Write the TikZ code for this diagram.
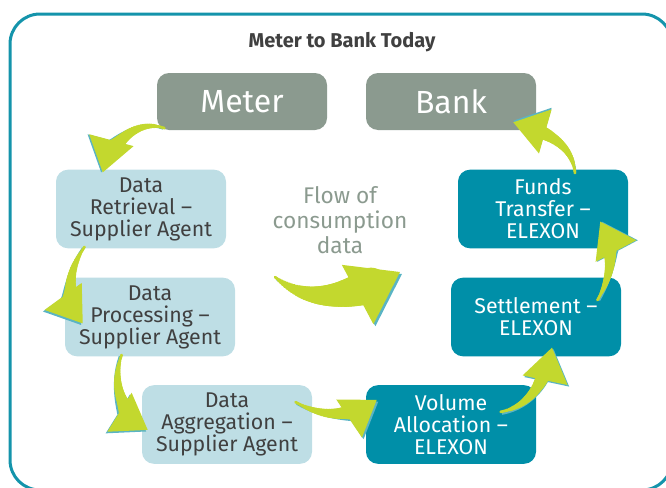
\documentclass[tikz,border=0pt]{standalone}
\usepackage{fontspec}
\setmainfont{Fira Sans}
\usetikzlibrary{arrows.meta,calc,positioning,decorations.markings}

\definecolor{framecol}{RGB}{20,148,171}
\definecolor{slatecol}{RGB}{139,154,143}
\definecolor{palecol}{RGB}{190,222,229}
\definecolor{tealcol}{RGB}{0,143,168}
\definecolor{limecol}{RGB}{195,216,46}
\definecolor{inkcol}{RGB}{64,64,64}

\tikzset{
  greybox/.style={fill=slatecol, rounded corners=9pt, minimum width=127.5pt,
    minimum height=42.75pt, text=white, font=\fontsize{24}{26}\selectfont},
  agentbox/.style={fill=palecol, rounded corners=9pt, minimum width=127.5pt,
    minimum height=59pt, align=center, text=inkcol, inner sep=1pt,
    font=\fontsize{16}{16.5}\selectfont},
  elexbox/.style={agentbox, fill=tealcol, text=white},
  % tapered body: circles growing along the path
  taper/.style={postaction={decorate, decoration={markings,
    mark=between positions 0 and 0.78 step 0.02 with {\fill[limecol] (0,0) circle
      ({0.6pt+#1*\pgfkeysvalueof{/pgf/decoration/mark info/sequence number}});}}}},
  cycarrow/.style={draw=limecol, line width=2pt,
    -{Triangle[length=25pt,width=34pt]}, taper=0.13pt,
    preaction={draw=framecol!70!white, line width=2pt,
      -{Triangle[length=25pt,width=34pt]}, transform canvas={shift={#1}}}},
  cycarrow/.default={(1.2pt,-1.2pt)},
}

\begin{document}
\begin{tikzpicture}[x=0.75pt,y=0.75pt]
\useasboundingbox (0,0) rectangle (666,487);
\draw[framecol, line width=2.25pt, rounded corners=22.5pt] (10,473) rectangle (672,-3);

\node[font=\bfseries\fontsize{15}{17}\selectfont, text=inkcol] (title) at (342,445) {Meter to Bank Today};

% top row
\node[greybox] (meter) at (242,385.5) {Meter};
\node[greybox] (bank) at (451,385.5) {Bank};

% supplier agent side
\node[agentbox] (retrieval) at (141,278) {Data\\Retrieval --\\Supplier Agent};
\node[agentbox] (processing) at (150,170) {Data\\Processing --\\Supplier Agent};
\node[agentbox] (aggregation) at (227,62.5) {Data\\Aggregation --\\Supplier Agent};

% elexon side
\node[elexbox] (volume) at (451,62.5) {Volume\\Allocation --\\ELEXON};
\node[elexbox] (settlement) at (536,170) {Settlement --\\ELEXON};
\node[elexbox] (funds) at (543,278) {Funds\\Transfer --\\ELEXON};

\node[text=slatecol, align=center, font=\fontsize{17}{18.75}\selectfont] (flowtext) at (340,267) {Flow of\\consumption\\data};

% the cycle
\draw[cycarrow={(-1.2pt,0pt)}] ($(meter.south west)+(8,2)$) to[out=160,in=75] ($(retrieval.north west)+(47,-3)$);
\draw[cycarrow={(-1.2pt,-1.2pt)}] ($(retrieval.south west)+(29,2)$) to[out=235,in=126] ($(processing.north west)+(18,-46)$);
\draw[cycarrow={(-1.2pt,-1.2pt)}] ($(processing.south west)+(57,2)$) to[out=250,in=148] ($(aggregation.north west)+(6,-45)$);
\draw[cycarrow={(1.2pt,-1.2pt)}] ($(aggregation.north east)+(-17,-17)$) to[out=-30,in=214] ($(volume.north west)+(11,-15)$);
\draw[cycarrow={(1.2pt,-1.2pt)}] ($(volume.north east)+(-36,-27)$) to[out=10,in=258] ($(settlement.south)+(16,9)$);
\draw[cycarrow={(1.2pt,0pt)}] ($(settlement.north east)+(-24,-23)$) to[out=60,in=298] ($(funds.south east)+(-28,27)$);
\draw[cycarrow={(0pt,1.2pt)}] ($(funds.north)+(32,-4)$) to[out=95,in=344] ($(bank.south east)+(-23,8)$);

% big flow arrow
\coordinate (flowstart) at (275,210);
\coordinate (flowend) at (400,215);
\draw[draw=limecol, line width=2pt, -{Triangle[length=36pt,width=50pt]}, taper=0.33pt,
  preaction={draw=framecol!70!white, line width=2pt, -{Triangle[length=36pt,width=50pt]},
    transform canvas={shift={(1.5pt,-1.5pt)}}}]
  (flowstart) to[out=-40,in=208] (flowend);
\end{tikzpicture}
\end{document}
